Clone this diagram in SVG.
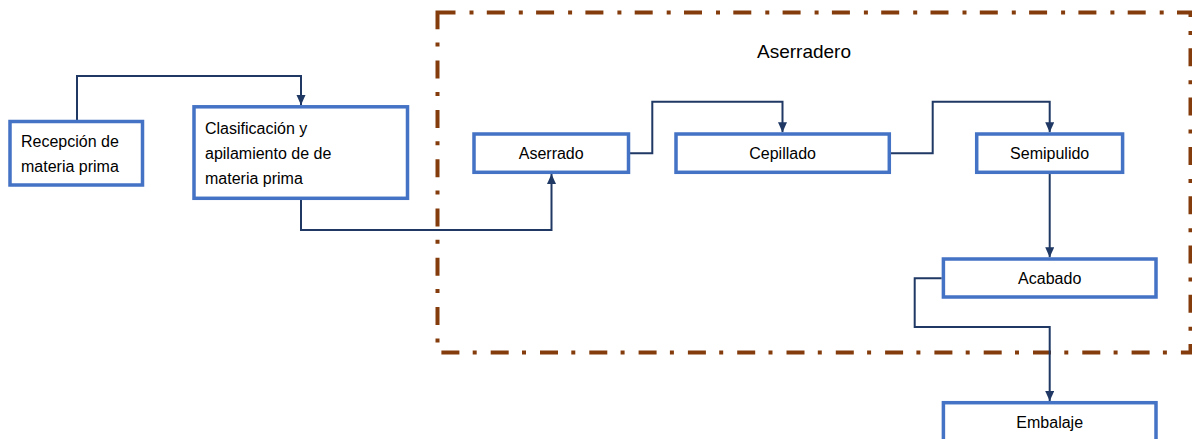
<svg xmlns="http://www.w3.org/2000/svg" width="1192" height="439" viewBox="0 0 1192 439">
<style>
.box{fill:#fff;stroke:#4472C4;stroke-width:3.5}
.lbl{font-family:"Liberation Sans",Arial,sans-serif;font-size:16px;fill:#000}
.c{text-anchor:middle}
.con{fill:none;stroke:#1F3864;stroke-width:2}
.arr{marker-end:url(#ah)}
</style>
<defs>
<marker id="ah" markerUnits="userSpaceOnUse" markerWidth="10" markerHeight="10" refX="10" refY="4.5" orient="auto">
<path d="M0,0 L10,4.5 L0,9 z" fill="#1F3864"/>
</marker>
</defs>
<rect id="aserradero-frame" x="437.5" y="12.5" width="753" height="340" fill="none" stroke="#843C0C" stroke-width="4" stroke-dasharray="18 14 4 13.3"/>
<text class="lbl" x="757" y="58" style="font-size:19px">Aserradero</text>
<g id="connectors">
<path class="con arr" d="M77,120 V76 H301 V105"/>
<path class="con arr" d="M301,200 V230 H551.5 V174"/>
<path class="con arr" d="M630,153.3 H652.3 V101.7 H782.5 V132.3"/>
<path class="con arr" d="M891,153.3 H932.7 V101.7 H1049.7 V132.3"/>
<path class="con arr" d="M1049.7,174 V257.3"/>
<path class="con arr" d="M941.7,278.3 H914.7 V327 H1049.7 V401"/>
</g>
<g id="recepcion">
<rect class="box" x="10" y="121.5" width="132.5" height="63.5"/>
<text class="lbl" x="21" y="147.3">Recepción de</text>
<text class="lbl" x="21" y="171.7">materia prima</text>
</g>
<g id="clasificacion">
<rect class="box" x="194" y="106.8" width="213.5" height="91.5"/>
<text class="lbl" x="205" y="134">Clasificación y</text>
<text class="lbl" x="205" y="159.3">apilamiento de de</text>
<text class="lbl" x="205" y="184">materia prima</text>
</g>
<g id="aserrado">
<rect class="box" x="474" y="134" width="154.5" height="38.3"/>
<text class="lbl c" x="551.2" y="159">Aserrado</text>
</g>
<g id="cepillado">
<rect class="box" x="676" y="134" width="213.3" height="38.3"/>
<text class="lbl c" x="782.6" y="159">Cepillado</text>
</g>
<g id="semipulido">
<rect class="box" x="976.7" y="134" width="145.9" height="38.3"/>
<text class="lbl c" x="1049.7" y="159">Semipulido</text>
</g>
<g id="acabado">
<rect class="box" x="943.4" y="259" width="212.6" height="38"/>
<text class="lbl c" x="1049.7" y="284.3">Acabado</text>
</g>
<g id="embalaje">
<rect class="box" x="943.4" y="402.7" width="212.6" height="50"/>
<text class="lbl c" x="1049.7" y="427.7">Embalaje</text>
</g>
</svg>
